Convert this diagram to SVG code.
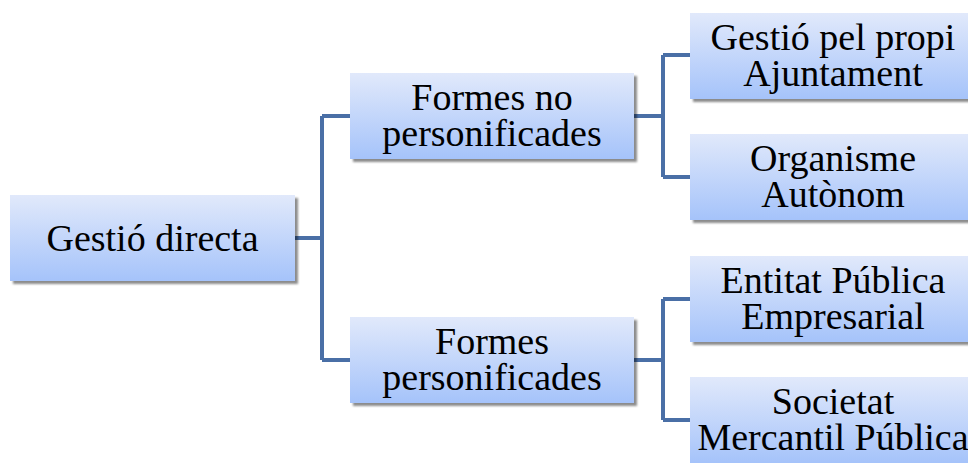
<svg xmlns="http://www.w3.org/2000/svg" width="968" height="463" viewBox="0 0 968 463">
<style>
.box{fill:url(#g);filter:url(#sh)}
.t{font-family:'Liberation Serif','Times New Roman',serif;font-size:38px;fill:#000;text-anchor:middle}
.c{fill:none;stroke:#4a6fa6;stroke-width:4;stroke-linejoin:miter}
</style>
<defs>
<linearGradient id="g" x1="0" y1="0" x2="0" y2="1">
<stop offset="0" stop-color="#e1e9fb"/>
<stop offset="1" stop-color="#a5c3fa"/>
</linearGradient>
<filter id="sh" x="-10%" y="-10%" width="120%" height="130%">
<feDropShadow dx="3" dy="3" stdDeviation="1.2" flood-color="#000" flood-opacity="0.45"/>
</filter>
</defs>
<rect width="968" height="463" fill="#fff"/>
<g id="connectors">
<path class="c" d="M295 238H322M322 116V360M322 116H350M322 360H350"/>
<path class="c" d="M634 116H663M663 55V177M663 55H690M663 177H690"/>
<path class="c" d="M634 360H663M663 299V420M663 299H690M663 420H690"/>
</g>
<g id="n-root"><rect class="box" x="10" y="195" width="285" height="86"/><text class="t" x="152.5" y="251">Gestió directa</text></g>
<g id="n-noPers"><rect class="box" x="350" y="73" width="284" height="86"/><text class="t" x="492" y="110">Formes no</text><text class="t" x="492" y="146">personificades</text></g>
<g id="n-pers"><rect class="box" x="350" y="317" width="284" height="86"/><text class="t" x="492" y="354">Formes</text><text class="t" x="492" y="390">personificades</text></g>
<g id="n-propi"><rect class="box" x="690" y="13" width="286" height="86"/><text class="t" x="833" y="50">Gestió pel propi</text><text class="t" x="833" y="86">Ajuntament</text></g>
<g id="n-org"><rect class="box" x="690" y="134" width="286" height="86"/><text class="t" x="833" y="171">Organisme</text><text class="t" x="833" y="207">Autònom</text></g>
<g id="n-epe"><rect class="box" x="690" y="256" width="286" height="86"/><text class="t" x="833" y="293">Entitat Pública</text><text class="t" x="833" y="329">Empresarial</text></g>
<g id="n-smp"><rect class="box" x="690" y="377" width="286" height="86"/><text class="t" x="833" y="414">Societat</text><text class="t" x="833" y="450">Mercantil Pública</text></g>
</svg>
